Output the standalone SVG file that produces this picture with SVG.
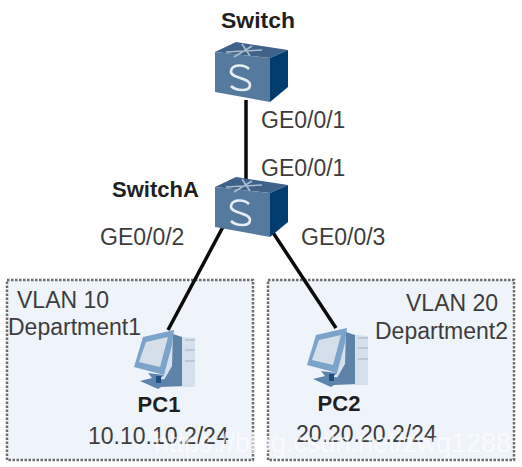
<svg xmlns="http://www.w3.org/2000/svg" width="522" height="467" viewBox="0 0 522 467">
<style>
.t{font-family:"Liberation Sans",Arial,sans-serif;font-size:23px;fill:#3d3d3d}
.b{font-family:"Liberation Sans",Arial,sans-serif;font-size:22px;font-weight:bold;fill:#1f1f1f}
.box{fill:#eff3fa;stroke:#6e6e6e;stroke-width:2.5;stroke-dasharray:2.5 1.5}
.c{stroke:#0b0b0b;stroke-width:3.5;fill:none;stroke-linecap:butt}
.wm{font-family:"Liberation Sans",Arial,sans-serif;font-size:28px;fill:#fff;fill-opacity:.65}
</style>
<defs>
<filter id="s" x="-5%" y="-5%" width="110%" height="110%"><feGaussianBlur stdDeviation="0.6"/></filter>
<g id="sw" filter="url(#s)">
<polygon points="215,52 236,42 288,50 270,58" fill="#3f6288"/>
<polygon points="215,52 270,58 270,102 215,92" fill="#557a9e"/>
<polygon points="270,58 288,50 288,87 270,102" fill="#033d6e"/>
<path d="M234,57 L252,46 M226,52 L262,50 M242,44 L250,56" stroke="#a9bccf" stroke-width="1.6" fill="none"/>
<path d="M249,69 C244,64 232,64 231,71 C230,79 250,77 250,85 C250,92 236,91 231,86" stroke="#e6edf3" stroke-width="2.6" fill="none"/>
</g>
<g id="pc" filter="url(#s)">
<polygon points="172,336 195,338 195,387 160,387" fill="#d6e0ec"/>
<polygon points="173,334 182,337 182,386 160,387 172,366" fill="#5f82a8"/>
<path d="M185,340 H195 M185,350 H195 M185,361 H195" stroke="#9db1c8" stroke-width="1.2"/>
<polygon points="143,337 174,330 172,345 164,375 134,367" fill="#7ba3c9"/>
<polygon points="146,342 168,337 160,367 139,362" fill="#d5dfe9"/>
<polygon points="148,373 164,375 160,379 172,380 158,389 140,381 152,378" fill="#5d84ad"/>
<rect x="156" y="376" width="5" height="7" fill="#1d4f80"/>
</g>
</defs>
<rect width="522" height="467" fill="#fff"/>
<g id="vlan10"><rect class="box" x="7" y="280" width="246" height="180"/></g>
<g id="vlan20"><rect class="box" x="268" y="280" width="246" height="180"/></g>
<g id="connectors">
<line class="c" x1="246" y1="100" x2="246" y2="182"/>
<line class="c" x1="224" y1="225" x2="168" y2="330"/>
<line class="c" x1="268" y1="225" x2="336" y2="328"/>
</g>
<g id="switch"><use href="#sw"/><text class="b" x="258" y="28" text-anchor="middle" textLength="74" lengthAdjust="spacingAndGlyphs">Switch</text></g>
<g id="switchA"><use href="#sw" y="135"/><text class="b" x="112" y="197">SwitchA</text></g>
<g id="pc1"><use href="#pc"/><text class="b" x="159" y="412" text-anchor="middle">PC1</text></g>
<g id="pc2"><use href="#pc" x="173" y="-2"/><text class="b" x="339" y="411" text-anchor="middle">PC2</text></g>
<g id="labels">
<text class="t" x="261" y="128">GE0/0/1</text>
<text class="t" x="261" y="176">GE0/0/1</text>
<text class="t" x="100" y="245">GE0/0/2</text>
<text class="t" x="301" y="245">GE0/0/3</text>
<text class="t" x="17" y="308">VLAN 10</text>
<text class="t" x="8" y="335">Department1</text>
<text class="t" x="406" y="311">VLAN 20</text>
<text class="t" x="375" y="339">Department2</text>
<text class="t" x="88" y="444">10.10.10.2/24</text>
<text class="t" x="296" y="442">20.20.20.2/24</text>
</g>
<text class="wm" x="154" y="452" textLength="357" lengthAdjust="spacingAndGlyphs">https://blog.csdn.net/zwq1288</text>
</svg>
